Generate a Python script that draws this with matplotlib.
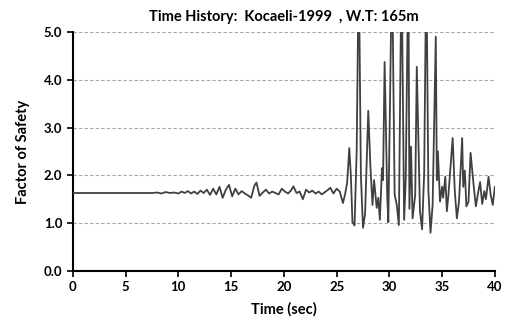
import matplotlib
matplotlib.use('Agg')
import matplotlib.pyplot as plt

# values (time in sec, factor of safety)
time = [0, 7.5, 8.0, 8.4, 8.8, 9.2, 9.6, 10.0, 10.3, 10.6, 10.9, 11.2, 11.5, 11.8,
        12.1, 12.4, 12.7, 13.0, 13.3, 13.6, 13.9, 14.2, 14.5, 14.8, 15.1, 15.4,
        15.7, 16.0, 16.3, 16.6, 16.9, 17.2, 17.4, 17.7, 18.0, 18.3, 18.6, 18.9,
        19.2, 19.5, 19.8, 20.1, 20.4, 20.7, 20.9, 21.2, 21.5, 21.8, 22.1, 22.4,
        22.7, 23.0, 23.3, 23.6, 23.9, 24.2, 24.4, 24.7, 25.0, 25.3, 25.6, 25.8,
        26.0, 26.2, 26.35, 26.5, 26.7, 26.9, 27.1, 27.3, 27.5, 27.7, 28.0, 28.2,
        28.4, 28.55, 28.8, 28.95, 29.1, 29.3, 29.4, 29.55, 29.8, 29.9, 30.25,
        30.5, 30.7, 30.9, 31.15, 31.4, 31.55, 31.8, 31.9, 32.05, 32.2, 32.45,
        32.6, 32.9, 33.1, 33.3, 33.5, 33.7, 33.9, 34.1, 34.4, 34.5, 34.6, 34.8,
        35.0, 35.1, 35.3, 35.45, 35.6, 36.0, 36.2, 36.4, 36.6, 36.9, 37.0, 37.15,
        37.3, 37.5, 37.7, 38.0, 38.2, 38.4, 38.6, 38.8, 39.0, 39.15, 39.4, 39.6,
        39.8, 40.0]
fs = [1.63, 1.63, 1.64, 1.62, 1.65, 1.63, 1.64, 1.62, 1.66, 1.63, 1.67, 1.62, 1.66, 1.61,
      1.68, 1.63, 1.70, 1.59, 1.72, 1.60, 1.76, 1.53, 1.70, 1.80, 1.56, 1.72,
      1.60, 1.67, 1.62, 1.58, 1.53, 1.78, 1.85, 1.57, 1.64, 1.70, 1.62, 1.66,
      1.63, 1.60, 1.72, 1.66, 1.62, 1.69, 1.77, 1.63, 1.66, 1.50, 1.70, 1.64,
      1.68, 1.62, 1.66, 1.60, 1.65, 1.70, 1.74, 1.62, 1.72, 1.66, 1.42, 1.60,
      1.85, 2.57, 2.00, 1.02, 0.95, 2.50, 6.50, 2.00, 0.90, 1.20, 3.35, 2.20,
      1.38, 1.90, 1.32, 1.53, 1.07, 2.15, 1.90, 4.37, 1.55, 1.02, 6.50,
      1.60, 1.38, 0.96, 6.50, 1.07, 1.90, 6.50, 1.30, 2.60, 1.10, 1.60,
      4.27, 1.25, 0.87, 2.05, 6.50, 1.67, 0.80, 1.38, 4.90, 1.90, 2.50, 1.45,
      1.76, 1.53, 1.97, 1.25, 1.60, 2.78, 1.67, 1.10, 1.45, 2.78, 1.76, 2.10,
      1.35, 1.45, 2.47, 1.76, 1.35, 1.62, 1.86, 1.40, 1.67, 1.50, 1.97, 1.60,
      1.38, 1.76]

xticks = [0, 5, 10, 15, 20, 25, 30, 35, 40]
yticks = [0.0, 1.0, 2.0, 3.0, 4.0, 5.0]

plt.rcParams['font.family'] = ['Lato', 'DejaVu Sans']
plt.rcParams['font.weight'] = 'bold'

fig = plt.figure(figsize=(5.06, 3.26), dpi=100)
ax = fig.add_axes([0.144, 0.169, 0.834, 0.733])

for y in yticks[1:]:
    ax.axhline(y, color='#a6a6a6', linestyle=(0, (3, 2)), linewidth=0.8, zorder=1)

ax.plot(time, fs, color='#404040', linewidth=1.3, zorder=3)

ax.set_xlim(0, 40)
ax.set_ylim(0, 5)
ax.set_xticks(xticks)
ax.set_yticks(yticks)
ax.set_yticklabels(['%.1f' % v for v in yticks])
ax.tick_params(direction='out', length=4, width=1.2, labelsize=9.5)
for lab in ax.get_xticklabels() + ax.get_yticklabels():
    lab.set_fontweight('bold')

ax.spines['top'].set_visible(False)
ax.spines['right'].set_visible(False)
ax.spines['left'].set_linewidth(1.5)
ax.spines['bottom'].set_linewidth(1.5)

ax.set_xlabel('Time (sec)', fontsize=10.5, fontweight='bold', labelpad=6)
ax.set_ylabel('Factor of Safety', fontsize=10.5, fontweight='bold', labelpad=10)
ax.set_title('Time History:  Kocaeli-1999  , W.T: 165m', fontsize=10.5, fontweight='bold', pad=8)

fig.savefig('out.png', dpi=100)
